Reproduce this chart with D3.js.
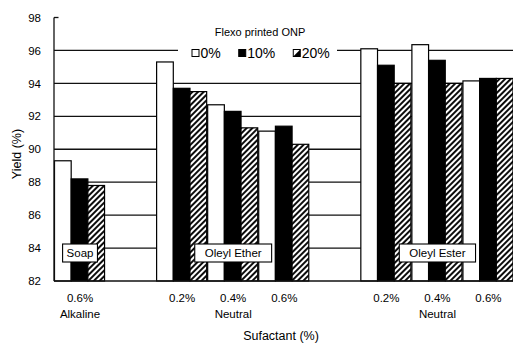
<!DOCTYPE html>
<html>
<head>
<meta charset="utf-8">
<script src="https://cdn.jsdelivr.net/npm/d3@7"></script>
<style>
	html, body { margin: 0; padding: 0; background: #fff; }
	svg { display: block; font-family: 'Liberation Sans', Arial, sans-serif; }
</style>
</head>
<body>
<div id="chart"></div>
<script>
/*globals d3*/

// categories (surfactant type + dosage) in drawing order
const categories = ['Soap 0.6%', 'Ether 0.2%', 'Ether 0.4%', 'Ether 0.6%', 'Ester 0.2%', 'Ester 0.4%', 'Ester 0.6%'];
const doseLabels = ['0.6%', '0.2%', '0.4%', '0.6%', '0.2%', '0.4%', '0.6%'];
const surfactants = ['Soap', 'Oleyl Ether', 'Oleyl Ester'];
const surfactantTypes = ['Alkaline', 'Neutral', 'Neutral'];
const surfactantMembers = [['Soap 0.6%'], ['Ether 0.2%', 'Ether 0.4%', 'Ether 0.6%'], ['Ester 0.2%', 'Ester 0.4%', 'Ester 0.6%']];

// series: Flexo printed ONP content
const seriesNames = ['0%', '10%', '20%'];
const flexo0 = [89.3, 95.3, 92.7, 91.1, 96.1, 96.35, 94.15];
const flexo10 = [88.2, 93.7, 92.3, 91.4, 95.1, 95.4, 94.3];
const flexo20 = [87.8, 93.5, 91.3, 90.3, 94.0, 94.0, 94.3];

const yTicks = [82, 84, 86, 88, 90, 92, 94, 96, 98];

var chart = function() {
	'use strict';
	const width = 513;
	const height = 343;
	const ink = '#111';
	let svg;

	function drawSvg() {
		d3.selectAll('#chart svg').remove();
		svg = d3.select('#chart').append('svg')
			.attr('width', width)
			.attr('height', height);
	}

	function drawLine(x1, y1, x2, y2, color, w) {
		svg.append('line')
			.attr('x1', x1).attr('y1', y1)
			.attr('x2', x2).attr('y2', y2)
			.style('stroke', color)
			.style('stroke-width', w);
	}

	function addHatch() {
		const pat = svg.append('defs').append('pattern')
			.attr('id', 'hatch')
			.attr('patternUnits', 'userSpaceOnUse')
			.attr('width', 4).attr('height', 4)
			.attr('patternTransform', 'rotate(45)');
		pat.append('rect').attr('width', 4).attr('height', 4).attr('fill', '#fff');
		pat.append('line')
			.attr('x1', 1).attr('y1', 0).attr('x2', 1).attr('y2', 4)
			.attr('stroke', '#000').attr('stroke-width', 1.9);
	}

	// slots include two empty spacers between the surfactant groups
	const slots = ['Soap 0.6%', 'gap-a', 'Ether 0.2%', 'Ether 0.4%', 'Ether 0.6%', 'gap-b', 'Ester 0.2%', 'Ester 0.4%', 'Ester 0.6%'];
	const x = d3.scaleBand().domain(slots).range([54.5, 514]).padding(0);
	const xs = d3.scaleBand().domain(seriesNames).range([0, x.bandwidth() - 1]).padding(0);
	const y = d3.scaleLinear().domain([82, 98]).range([281, 17.5]);
	const fills = { '0%': '#fff', '10%': '#000', '20%': 'url(#hatch)' };
	const values = { '0%': flexo0, '10%': flexo10, '20%': flexo20 };

	function drawGrid() {
		yTicks.filter(function (v) { return v > 82 && v < 98; }).forEach(function (v) {
			drawLine(54, y(v), 514, y(v), ink, 1.3);
		});
	}

	function drawYAxis() {
		drawLine(54, y(98), 54, y(82), ink, 1.3);
		drawLine(54, y(98), 58.5, y(98), ink, 1.3);
		svg.append('g').selectAll('text')
			.data(yTicks).enter().append('text')
			.attr('x', 41).attr('y', function (d) { return y(d); })
			.attr('dy', '0.36em')
			.style('text-anchor', 'end')
			.style('font-size', '11.5px')
			.text(function (d) { return d; });
		svg.append('text')
			.attr('transform', 'translate(21,' + 154 + ') rotate(-90)')
			.style('text-anchor', 'middle')
			.style('font-size', '12.5px')
			.text('Yield (%)');
	}

	function drawBars() {
		seriesNames.forEach(function (s) {
			svg.append('g').selectAll('rect')
				.data(categories).enter().append('rect')
				.attr('x', function (c) { return x(c) + xs(s); })
				.attr('y', function (c, i) { return y(values[s][i]); })
				.attr('width', xs.bandwidth())
				.attr('height', function (c, i) { return y(82) - y(values[s][i]); })
				.attr('fill', fills[s])
				.attr('stroke', '#000')
				.attr('stroke-width', 1.2);
		});
	}

	function drawXAxis() {
		drawLine(54, y(82), 514, y(82), ink, 1.3);
		svg.append('g').selectAll('text')
			.data(categories).enter().append('text')
			.attr('x', function (c) { return x(c) + x.bandwidth() / 2; })
			.attr('y', 302)
			.style('text-anchor', 'middle')
			.style('font-size', '11.5px')
			.text(function (c, i) { return doseLabels[i]; });
		surfactantMembers.forEach(function (m, i) {
			const mid = m[Math.floor(m.length / 2)];
			const cx = x(mid) + x.bandwidth() / 2;
			svg.append('text')
				.attr('x', cx).attr('y', 318)
				.style('text-anchor', 'middle')
				.style('font-size', '11.5px')
				.text(surfactantTypes[i]);
			// label box for the surfactant
			const g = svg.append('g');
			const r = g.append('rect');
			const t = g.append('text')
				.attr('x', cx).attr('y', y(83.7))
				.attr('dy', '0.36em')
				.style('text-anchor', 'middle')
				.style('font-size', '11.5px')
				.text(surfactants[i]);
			const tw = t.node().getComputedTextLength();
			const pad = i === 0 ? 4 : 10;
			r.attr('x', cx - tw / 2 - pad).attr('y', y(83.7) - 9)
				.attr('width', tw + pad * 2).attr('height', 18)
				.attr('fill', '#fff').attr('stroke', '#000').attr('stroke-width', 1.1);
		});
		svg.append('text')
			.attr('x', 281).attr('y', 340)
			.style('text-anchor', 'middle')
			.style('font-size', '12.5px')
			.text('Sufactant (%)');
	}

	function drawLegend() {
		svg.append('rect')
			.attr('x', 178).attr('y', 22).attr('width', 159).attr('height', 38)
			.attr('fill', '#fff');
		svg.append('text')
			.attr('x', 260).attr('y', 36)
			.style('text-anchor', 'middle')
			.style('font-size', '11px')
			.text('Flexo printed ONP');
		let cursor = 192;
		const cy = 53;
		seriesNames.forEach(function (s) {
			const g = svg.append('g');
			if (s === '20%') {
				g.append('rect').attr('x', cursor).attr('y', cy - 3.5).attr('width', 7).attr('height', 7)
					.attr('fill', '#fff').attr('stroke', '#000').attr('stroke-width', 1);
				g.append('path')
					.attr('d', 'M' + (cursor + 7) + ',' + (cy - 3.5) + 'L' + (cursor + 7) + ',' + (cy + 3.5) + 'L' + cursor + ',' + (cy + 3.5) + 'Z')
					.attr('fill', '#000');
			} else {
				g.append('rect').attr('x', cursor).attr('y', cy - 3.5).attr('width', 7).attr('height', 7)
					.attr('fill', fills[s]).attr('stroke', '#000').attr('stroke-width', 1);
			}
			const t = g.append('text')
				.attr('x', cursor + 8.5).attr('y', cy).attr('dy', '0.36em')
				.style('font-size', '14px')
				.text(s);
			cursor += 8.5 + t.node().getComputedTextLength() + 18;
		});
	}

	return {
		render: function () {
			drawSvg();
			addHatch();
			drawGrid();
			drawBars();
			drawYAxis();
			drawXAxis();
			drawLegend();
		}
	};
};

chart().render();
</script>
</body>
</html>
